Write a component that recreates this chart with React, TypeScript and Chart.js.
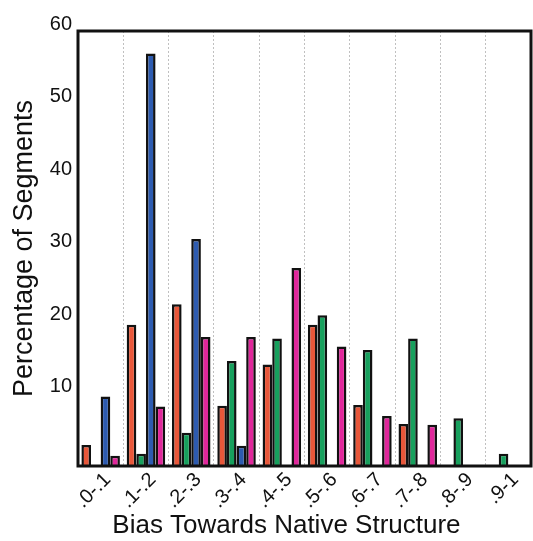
import React, { useEffect, useRef } from "react";
import { Chart, registerables } from "chart.js";

Chart.register(...registerables);

const categories = [".0-.1", ".1-.2", ".2-.3", ".3-.4", ".4-.5", ".5-.6", ".6-.7", ".7-.8", ".8-.9", ".9-1"];
const seriesOrange = [2.9, 19.5, 22.3, 8.3, 14.0, 19.5, 8.4, 5.8, 0, 0];
const seriesGreen = [0, 1.7, 4.6, 14.5, 17.6, 20.8, 16.0, 17.6, 6.6, 1.7];
const seriesBlue = [9.6, 56.9, 31.3, 2.8, 0, 0, 0, 0, 0, 0];
const seriesMagenta = [1.4, 8.2, 17.8, 17.8, 27.3, 16.5, 6.9, 5.7, 0, 0];
const yTicks = [10, 20, 30, 40, 50, 60];

const FONT = "'Liberation Sans', Arial, Helvetica, sans-serif";

const framePlugin = {
  id: "frame",
  afterDatasetsDraw(chart: any) {
    const { ctx, chartArea } = chart;
    ctx.save();
    ctx.strokeStyle = "#111";
    ctx.lineWidth = 3;
    ctx.strokeRect(chartArea.left, chartArea.top, chartArea.right - chartArea.left, chartArea.bottom - chartArea.top);
    ctx.restore();
  },
};

export default function App() {
  const ref = useRef<HTMLCanvasElement | null>(null);
  useEffect(() => {
    if (!ref.current) return;
    const mk = (label: string, data: number[], color: string) => ({
      label,
      data,
      backgroundColor: color,
      borderColor: "#111",
      borderWidth: 2.5,
      categoryPercentage: 0.85,
      barPercentage: 1.0,
    });
    const chart = new Chart(ref.current, {
      type: "bar",
      data: {
        labels: categories,
        datasets: [
          mk("A", seriesOrange, "#E8573A"),
          mk("B", seriesGreen, "#17A05D"),
          mk("C", seriesBlue, "#2D5BB0"),
          mk("D", seriesMagenta, "#E0279B"),
        ],
      },
      options: {
        animation: false,
        responsive: false,
        maintainAspectRatio: false,
        layout: { padding: { left: 0, right: 2, top: 31, bottom: 0 } },
        plugins: { legend: { display: false }, tooltip: { enabled: false } },
        scales: {
          x: {
            afterFit: (s: any) => { s.height = 75; },
            grid: {
              offset: true,
              drawTicks: false,
              color: "rgba(150,150,150,0.6)",
              lineWidth: 1,
            },
            border: { display: false, dash: [2, 2] },
            ticks: {
              minRotation: 45,
              maxRotation: 45,
              padding: 2,
              labelOffset: 7,
              color: "#111",
              font: { family: FONT, size: 20 },
            },
            title: {
              display: true,
              text: "Bias Towards Native Structure     ",
              color: "#111",
              font: { family: FONT, size: 26 },
              padding: { top: 0, bottom: 0 },
            },
          },
          y: {
            min: 0,
            max: 60,
            afterFit: (s: any) => { s.width = 78; },
            afterBuildTicks: (s: any) => { s.ticks = [0, ...yTicks].map((v) => ({ value: v })); },
            grid: { display: false, drawTicks: false },
            border: { display: false },
            ticks: {
              padding: 6,
              labelOffset: -7,
              color: "#111",
              font: { family: FONT, size: 20 },
              callback: (v: any) => (v === 0 ? "" : String(v)),
            },
            title: {
              display: true,
              text: "Percentage of Segments",
              color: "#111",
              font: { family: FONT, size: 27 },
              padding: { top: 8, bottom: 0 },
            },
          },
        },
      },
      plugins: [framePlugin],
    } as any);
    return () => chart.destroy();
  }, []);
  return (
    <div style={{ position: "fixed", left: 0, top: 0, width: 533, height: 541, background: "#fff" }}>
      <canvas ref={ref} width={533} height={541} style={{ width: 533, height: 541 }} />
    </div>
  );
}
